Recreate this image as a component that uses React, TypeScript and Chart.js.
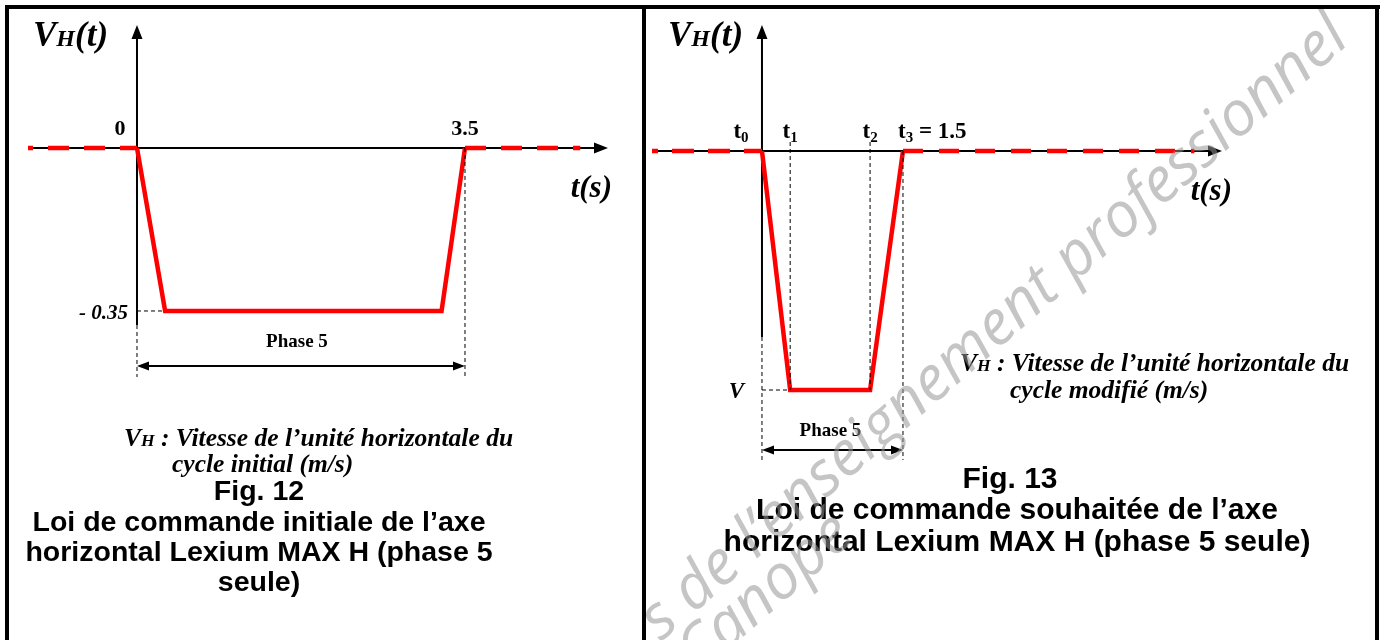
import React, { useEffect, useRef } from "react";
import { Chart, registerables } from "chart.js";

Chart.register(...registerables);

// ---------- Fig. 12 : initial command law ----------
const fig12Times = [0, 0.3, 3.25, 3.5];
const fig12Speeds = [0, -0.35, -0.35, 0];
const fig12RestBeforeTimes = [-1.163, 0];
const fig12RestAfterTimes = [3.5, 4.73];
const fig12TickTimes = [0, 3.5];
const fig12TickLabels = ["0", "3.5"];
const fig12SpeedTickValue = -0.35;
const fig12SpeedTickLabel = "- 0.35";

// ---------- Fig. 13 : wished command law ----------
const fig13V = -0.5;
const fig13Times = [0, 0.3, 1.15, 1.5];
const fig13Speeds = [0, fig13V, fig13V, 0];
const fig13RestBeforeTimes = [-1.17, 0];
const fig13RestAfterTimes = [1.5, 4.6];
const fig13TickBase = ["t", "t", "t", "t"];
const fig13TickSub = ["0", "1", "2", "3"];
const fig13TickRest = ["", "", "", " = 1.5"];
const fig13SpeedTickLabel = "V";

// axis ranges (scale limits)
const fig12XRange = [-1.163, 5.026];
const fig12YRange = [-0.3801, 0.2641];
const fig13XRange = [-1.17, 4.894];
const fig13YRange = [-0.3891, 0.2636];

const RED = "#ff0000";
const SBI = (s: number) => `italic bold ${s}px "Liberation Serif"`;
const SB = (s: number) => `bold ${s}px "Liberation Serif"`;
const AB = (s: number) => `bold ${s}px "Liberation Sans"`;

type Run = { t: string; f: string; dy?: number };

function drawRuns(ctx: CanvasRenderingContext2D, runs: Run[], x: number, y: number, align: "left" | "center" | "right") {
  let w = 0;
  runs.forEach((r) => {
    ctx.font = r.f;
    w += ctx.measureText(r.t).width;
  });
  let cx = align === "left" ? x : align === "center" ? x - w / 2 : x - w;
  ctx.textAlign = "left";
  ctx.textBaseline = "alphabetic";
  runs.forEach((r) => {
    ctx.font = r.f;
    ctx.fillText(r.t, cx, y + (r.dy || 0));
    cx += ctx.measureText(r.t).width;
  });
}

function arrowHead(ctx: CanvasRenderingContext2D, tx: number, ty: number, dx: number, dy: number, len: number, half: number) {
  const px = -dy, py = dx;
  ctx.beginPath();
  ctx.moveTo(tx, ty);
  ctx.lineTo(tx - dx * len + px * half, ty - dy * len + py * half);
  ctx.lineTo(tx - dx * len - px * half, ty - dy * len - py * half);
  ctx.closePath();
  ctx.fill();
}

function line(ctx: CanvasRenderingContext2D, x1: number, y1: number, x2: number, y2: number) {
  ctx.beginPath();
  ctx.moveTo(x1, y1);
  ctx.lineTo(x2, y2);
  ctx.stroke();
}

function drawAxes(chart: any) {
  const ctx: CanvasRenderingContext2D = chart.ctx;
  const { left, right, top, bottom } = chart.chartArea;
  const x0 = chart.scales.x.getPixelForValue(0);
  const y0 = chart.scales.y.getPixelForValue(0);
  ctx.save();
  ctx.strokeStyle = "#000";
  ctx.fillStyle = "#000";
  ctx.lineWidth = 2;
  ctx.setLineDash([]);
  line(ctx, left + 2, y0, right - 10, y0);
  arrowHead(ctx, right, y0, 1, 0, 14, 5.5);
  line(ctx, x0, bottom, x0, top + 10);
  arrowHead(ctx, x0, top, 0, -1, 14, 5.5);
  ctx.restore();
}

function phaseArrow(ctx: CanvasRenderingContext2D, xa: number, xb: number, y: number) {
  ctx.save();
  ctx.setLineDash([]);
  ctx.lineWidth = 2;
  ctx.strokeStyle = "#000";
  ctx.fillStyle = "#000";
  line(ctx, xa + 8, y, xb - 8, y);
  arrowHead(ctx, xa, y, -1, 0, 12, 4.5);
  arrowHead(ctx, xb, y, 1, 0, 12, 4.5);
  ctx.restore();
}

const axesPlugin = { id: "axesPlugin", beforeDatasetsDraw: (chart: any) => drawAxes(chart) };

const fig12Labels = {
  id: "fig12Labels",
  afterDatasetsDraw(chart: any) {
    const ctx: CanvasRenderingContext2D = chart.ctx;
    const X = (v: number) => chart.scales.x.getPixelForValue(v);
    const Y = (v: number) => chart.scales.y.getPixelForValue(v);
    const { right, bottom } = chart.chartArea;
    ctx.save();
    ctx.fillStyle = "#000";
    ctx.strokeStyle = "#000";
    ctx.lineWidth = 1;
    ctx.setLineDash([4, 3]);
    line(ctx, X(0), Y(fig12SpeedTickValue), X(fig12Times[1]), Y(fig12SpeedTickValue));
    line(ctx, X(fig12Times[3]), Y(0), X(fig12Times[3]), bottom + 52);
    line(ctx, X(0), bottom, X(0), bottom + 52);
    ctx.setLineDash([]);
    phaseArrow(ctx, X(0), X(fig12Times[3]), bottom + 41);
    drawRuns(ctx, [{ t: "Phase 5", f: SB(19) }], (X(0) + X(fig12Times[3])) / 2 - 4, bottom + 22, "center");

    drawRuns(ctx, [{ t: "V", f: SBI(35) }, { t: "H", f: SBI(24) }, { t: "(t)", f: SBI(35) }], 33, 46, "left");
    drawRuns(ctx, [{ t: "t(s)", f: SBI(31) }], right + 4, Y(0) + 49, "right");
    fig12TickTimes.forEach((t, i) => {
      const off = t === 0 ? -17 : 0;
      drawRuns(ctx, [{ t: fig12TickLabels[i], f: SB(22) }], X(t) + off, Y(0) - 13, "center");
    });
    drawRuns(ctx, [{ t: fig12SpeedTickLabel, f: SBI(21) }], X(0) - 9, Y(fig12SpeedTickValue) + 8, "right");

    drawRuns(ctx, [{ t: "V", f: SBI(25.5) }, { t: "H", f: SBI(17.5) }, { t: " : Vitesse de l\u2019unit\u00e9 horizontale du", f: SBI(25.5) }], 124, 446, "left");
    drawRuns(ctx, [{ t: "cycle initial (m/s)", f: SBI(25.5) }], 172, 472, "left");

    drawRuns(ctx, [{ t: "Fig. 12", f: AB(28.5) }], 259, 500, "center");
    drawRuns(ctx, [{ t: "Loi de commande initiale de l\u2019axe", f: AB(28.5) }], 259, 531, "center");
    drawRuns(ctx, [{ t: "horizontal Lexium MAX H (phase 5", f: AB(28.5) }], 259, 561, "center");
    drawRuns(ctx, [{ t: "seule)", f: AB(28.5) }], 259, 591, "center");
    ctx.restore();
  },
};

const fig13Labels = {
  id: "fig13Labels",
  afterDatasetsDraw(chart: any) {
    const ctx: CanvasRenderingContext2D = chart.ctx;
    const X = (v: number) => chart.scales.x.getPixelForValue(v);
    const Y = (v: number) => chart.scales.y.getPixelForValue(v);
    const { right, bottom } = chart.chartArea;
    ctx.save();
    ctx.fillStyle = "#000";
    ctx.strokeStyle = "#000";
    ctx.lineWidth = 1;
    ctx.setLineDash([4, 3]);
    line(ctx, X(0), Y(fig13V), X(fig13Times[1]), Y(fig13V));
    line(ctx, X(fig13Times[1]), Y(0) - 9, X(fig13Times[1]), Y(fig13V));
    line(ctx, X(fig13Times[2]), Y(0) - 9, X(fig13Times[2]), Y(fig13V));
    line(ctx, X(fig13Times[3]), Y(0), X(fig13Times[3]), bottom + 123);
    line(ctx, X(0), bottom, X(0), bottom + 123);
    ctx.setLineDash([]);
    phaseArrow(ctx, X(0), X(fig13Times[3]), bottom + 113);
    drawRuns(ctx, [{ t: "Phase 5", f: SB(19) }], (X(0) + X(fig13Times[3])) / 2 - 2, bottom + 99, "center");

    drawRuns(ctx, [{ t: "V", f: SBI(35) }, { t: "H", f: SBI(24) }, { t: "(t)", f: SBI(35) }], 26, 46, "left");
    drawRuns(ctx, [{ t: "t(s)", f: SBI(31) }], right + 10, Y(0) + 49, "right");

    fig13Times.forEach((t, i) => {
      const runs: Run[] = [
        { t: fig13TickBase[i], f: SB(23) },
        { t: fig13TickSub[i], f: SB(15), dy: 4 },
      ];
      if (fig13TickRest[i]) runs.push({ t: fig13TickRest[i], f: SB(23) });
      if (i === 0) drawRuns(ctx, runs, X(t) - 21, Y(0) - 13, "center");
      else if (i === 3) drawRuns(ctx, runs, X(t) - 5, Y(0) - 13, "left");
      else drawRuns(ctx, runs, X(t), Y(0) - 13, "center");
    });
    drawRuns(ctx, [{ t: fig13SpeedTickLabel, f: SBI(23) }], X(0) - 18, Y(fig13V) + 8, "right");

    drawRuns(ctx, [{ t: "V", f: SBI(25.5) }, { t: "H", f: SBI(17.5) }, { t: " : Vitesse de l\u2019unit\u00e9 horizontale du", f: SBI(25.5) }], 318, 371, "left");
    drawRuns(ctx, [{ t: "cycle modifi\u00e9 (m/s)", f: SBI(25.5) }], 368, 398, "left");

    drawRuns(ctx, [{ t: "Fig. 13", f: AB(30) }], 368, 488, "center");
    drawRuns(ctx, [{ t: "Loi de commande souhait\u00e9e de l\u2019axe", f: AB(30) }], 375, 519, "center");
    drawRuns(ctx, [{ t: "horizontal Lexium MAX H (phase 5 seule)", f: AB(30) }], 375, 551, "center");
    ctx.restore();
  },
  afterDraw(chart: any) {
    // watermark
    const ctx: CanvasRenderingContext2D = chart.ctx;
    ctx.save();
    ctx.fillStyle = "rgba(150,150,150,0.55)";
    ctx.translate(19, 642);
    ctx.rotate((-41 * Math.PI) / 180);
    ctx.font = 'italic 400 62px "Open Sans"';
    ctx.textAlign = "left";
    ctx.textBaseline = "alphabetic";
    ctx.fillText("s de l\u2019enseignement professionnel", 0, 0);
    ctx.textAlign = "right";
    ctx.fillText("R\u00e9seau Canop\u00e9", 215, 50);
    ctx.restore();
  },
};

function seg(xs: number[], ys: number[]) {
  return xs.map((x, i) => ({ x, y: ys[i] }));
}

function makeConfig(
  times: number[], speeds: number[], before: number[], after: number[],
  xr: number[], yr: number[], padding: any, dashBefore: number[], offBefore: number, dashAfter: number[], labels: any
): any {
  const base = { borderColor: RED, pointRadius: 0, showLine: true, fill: false, tension: 0, borderCapStyle: "butt", borderJoinStyle: "miter", clip: false };
  return {
    type: "scatter",
    data: {
      datasets: [
        { ...base, data: seg(before, [0, 0]), borderWidth: 4.5, borderDash: dashBefore, borderDashOffset: offBefore },
        { ...base, data: seg(after, [0, 0]), borderWidth: 4.5, borderDash: dashAfter, borderDashOffset: 0 },
        { ...base, data: seg(times, speeds), borderWidth: 4.5 },
      ],
    },
    options: {
      animation: false,
      responsive: false,
      events: [],
      layout: { padding },
      plugins: { legend: { display: false }, tooltip: { enabled: false } },
      scales: {
        x: { type: "linear", display: false, min: xr[0], max: xr[1] },
        y: { type: "linear", display: false, min: yr[0], max: yr[1] },
      },
    },
    plugins: [axesPlugin, labels],
  };
}

export default function App() {
  const leftRef = useRef<HTMLCanvasElement>(null);
  const rightRef = useRef<HTMLCanvasElement>(null);
  useEffect(() => {
    const c1 = new Chart(
      leftRef.current as HTMLCanvasElement,
      makeConfig(fig12Times, fig12Speeds, fig12RestBeforeTimes, fig12RestAfterTimes, fig12XRange, fig12YRange,
        { left: 28, right: 34, top: 25, bottom: 315 }, [21, 15], 16, [21, 15], fig12Labels)
    );
    const c2 = new Chart(
      rightRef.current as HTMLCanvasElement,
      makeConfig(fig13Times, fig13Speeds, fig13RestBeforeTimes, fig13RestAfterTimes, fig13XRange, fig13YRange,
        { left: 10, right: 162, top: 25, bottom: 303 }, [22, 14], 16, [20, 16], fig13Labels)
    );
    return () => {
      c1.destroy();
      c2.destroy();
    };
  }, []);

  const bar = (l: number, t: number, w: number, h: number) => (
    <div style={{ position: "absolute", left: l, top: t, width: w, height: h, background: "#000", zIndex: 2 }} />
  );

  return (
    <div style={{ position: "absolute", left: 0, top: 0, width: 1384, height: 640, background: "#fff", overflow: "hidden" }}>
      <canvas ref={leftRef} width={642} height={640} style={{ position: "absolute", left: 0, top: 0, width: 642, height: 640 }} />
      <canvas ref={rightRef} width={742} height={640} style={{ position: "absolute", left: 642, top: 0, width: 742, height: 640 }} />
      {bar(5, 5, 1375, 4)}
      {bar(5, 5, 4, 635)}
      {bar(642, 5, 4, 635)}
      {bar(1375, 5, 4, 635)}
    </div>
  );
}
